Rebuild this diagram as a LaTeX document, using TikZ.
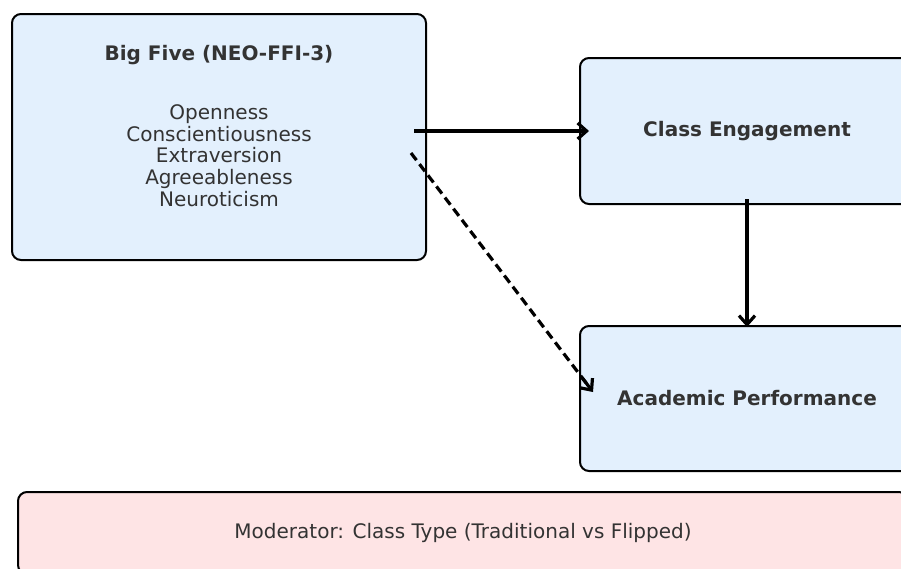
\documentclass[tikz,border=0pt]{standalone}
\usepackage{fontspec}
\setmainfont{DejaVu Sans}
\usetikzlibrary{arrows.meta,calc}
\definecolor{boxblue}{HTML}{E3F0FD}
\definecolor{boxpink}{HTML}{FEE4E5}
\definecolor{txt}{HTML}{333333}
\tikzset{
  box/.style={draw=black, line width=2pt, rounded corners=9pt, fill=boxblue, inner sep=0pt, text=txt, align=center, font=\fontsize{20}{21.7}\selectfont},
  modbox/.style={box, fill=boxpink},
  conn/.style={line width=3.2pt, -{Straight Barb[length=9pt,width=16pt]}},
  dconn/.style={line width=3.2pt, dash pattern=on 9pt off 5pt}
}
\begin{document}
\begin{tikzpicture}[x=1pt,y=-1pt]
\useasboundingbox (0,0) rectangle (901,568);
\clip (0,0) rectangle (901,568);
\node[box, minimum width=414pt, minimum height=246pt] (big) at (219,137) {};
\node[text=txt, font=\fontsize{20}{24}\selectfont\bfseries, anchor=base] (bigt) at (219,60) {Big Five (NEO-FFI-3)};
\node[text=txt, font=\fontsize{20}{21.7}\selectfont, align=center, anchor=north] (bigl) at (219,101) {Openness\\Conscientiousness\\Extraversion\\Agreeableness\\Neuroticism};
\node[box, minimum width=334pt, minimum height=146pt, font=\fontsize{20}{24}\selectfont\bfseries] (ce) at (747,131) {Class Engagement};
\node[box, minimum width=334pt, minimum height=145pt, font=\fontsize{20}{24}\selectfont\bfseries] (ap) at (747,398.5) {Academic Performance};
\node[modbox, minimum width=890pt, minimum height=82pt] (mod) at (463,533) {Moderator: Class Type (Traditional vs Flipped)};
\coordinate (d1) at (411,153);
\coordinate (d2) at (593,392);
\draw[conn, shorten <=-13pt, shorten >=-10pt] (big.east |- ce.west) -- (ce.west);
\draw[conn, shorten <=-6pt, shorten >=-2pt] (ce.south) -- (ap.north);
\draw[dconn, shorten >=6pt] (d1) -- (d2);
\draw[conn] ($(d1)!0.94!(d2)$) -- (d2);
\end{tikzpicture}
\end{document}
